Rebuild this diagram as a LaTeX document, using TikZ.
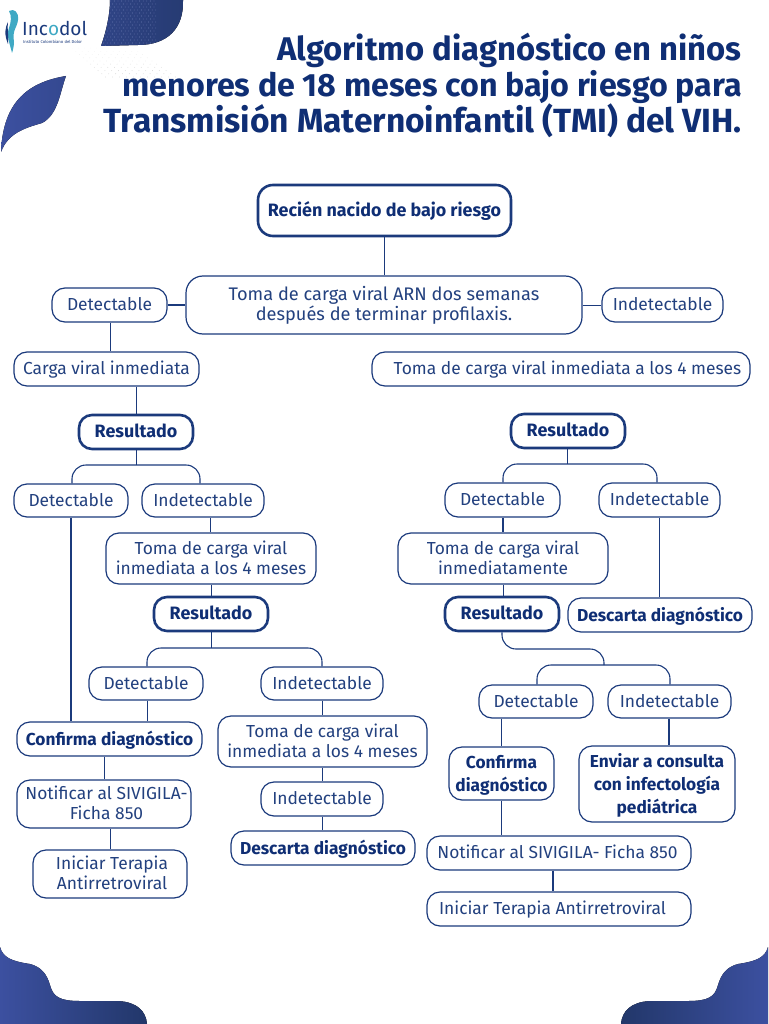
\documentclass[tikz,border=0pt]{standalone}
\usepackage{fontspec}
\setmainfont{Fira Sans}
\usetikzlibrary{calc}
\definecolor{ink}{HTML}{1B3A7C}
\definecolor{txt}{HTML}{23417F}
\definecolor{deep}{HTML}{0F2E74}
\definecolor{bandA}{HTML}{3C50A0}
\definecolor{bandB}{HTML}{22376A}
\definecolor{teal}{HTML}{3FA9C4}
\newcommand{\bx}[7][]{\node[box,#1,minimum width={(#4-#3)*1pt},minimum height={(#6-#5)*1pt}] (#2) at ({(#3+#4)/2},{(#5+#6)/2}) {\raisebox{0pt}[\dimexpr\height+3pt\relax][\depth]{\begin{tabular}{@{}c@{}}#7\end{tabular}}};}
\newcommand{\cn}[4][]{\draw[link,#1] (#2.south -| #4,0) -- (#3.north -| #4,0);}
\tikzset{
  x=1pt,y=-1pt,
  box/.style={draw=ink,line width=1.2pt,rounded corners=13pt,fill=white,text=txt,inner sep=0pt,align=center,font=\fontsize{17.4}{20}\selectfont},
  keybox/.style={line width=2.6pt,text=deep,font=\fontsize{17.9}{20}\selectfont\bfseries},
  boldbox/.style={text=deep,font=\fontsize{17.3}{23}\selectfont\bfseries},
  widebox/.style={font=\fontsize{18.2}{20}\selectfont},
  link/.style={draw=ink,line width=1pt},
  heavy/.style={line width=2.2pt},
  arc/.style={draw=ink,line width=1.1pt,rounded corners=14pt},
}
\begin{document}
\begin{tikzpicture}
\useasboundingbox (0,0) rectangle (768,1024);
% decoration
\fill[left color=bandA,right color=bandB] (0,947) .. controls (3,957) and (10,961) .. (30,964) .. controls (42,967) and (47,975) .. (50,985) .. controls (53,997) and (60,1001) .. (80,1001) -- (118,1001) .. controls (137,1002) and (146,1011) .. (147,1024) -- (0,1024) -- cycle;
\fill[right color=bandA,left color=bandB] (768,947) .. controls (765,957) and (758,961) .. (738,964) .. controls (726,967) and (721,975) .. (718,985) .. controls (715,997) and (708,1001) .. (688,1001) -- (650,1001) .. controls (631,1002) and (622,1011) .. (621,1024) -- (768,1024) -- cycle;
\begin{scope}
\clip (110,0) -- (183,0) .. controls (184,28) and (168,45) .. (138,45) -- (101,46) .. controls (106,32) and (110,15) .. (110,0) -- cycle;
\fill[left color=bandA!55!bandB,right color=bandB!85!bandA] (95,-1) rectangle (185,47);
\foreach \r in {0,...,15}{\foreach \c in {0,...,15}{
  \fill[white!30!bandA] ({100+\c*3.6+mod(\r,2)*1.8},{1+\r*3}) circle (0.42);
}}
\end{scope}
\fill[left color=bandA,right color=bandA!70!bandB] (66,76) .. controls (30,82) and (3,100) .. (1,152) .. controls (8,133) and (25,128) .. (42,123) .. controls (58,115) and (60,92) .. (66,76) -- cycle;
\foreach \r in {0,...,9}{\foreach \c in {0,...,10}{
  \fill[black!\fpeval{20-2*\r}] ({74+\r*(-0.2)+\c*(7-\r*0.1)+(9-\r)*3.5},{77-\r*3.2}) circle (0.45);
}}
% logo
\fill[teal] (9,11) .. controls (14,8) and (19,12) .. (18,20) .. controls (17,28) and (12,30) .. (14,42) .. controls (14,46) and (13,50) .. (12,53) .. controls (10,44) and (6,36) .. (9,28) .. controls (11,22) and (12,16) .. (9,11) -- cycle;
\fill[ink] (8,22) .. controls (5,28) and (4,34) .. (8,44) .. controls (9,38) and (7,30) .. (8,22) -- cycle;
\node[inner sep=0pt,anchor=base west,text=ink,font=\fontsize{19}{19}\selectfont] (logo) at (22,36) {Inc\textcolor{teal}{o}dol};
\node[inner sep=0pt,anchor=north west,text=ink,font=\fontsize{4.2}{5}\selectfont] (logosub) at (23,40) {Instituto Colombiano del Dolor};
% title
\node[inner sep=0pt,anchor=north east,align=right,text=deep,font=\fontsize{33}{36}\selectfont\bfseries] (title) at (742,33) {{\fontsize{32.8}{36}\selectfont Algoritmo diagnóstico en niños}\\{\fontsize{32.2}{36}\selectfont menores de 18 meses con bajo riesgo para}\\{\fontsize{33.5}{36}\selectfont Transmisión Maternoinfantil (TMI) del VIH.}};
% boxes
\bx[keybox,rounded corners=15pt]{top}{258}{511}{185}{236}{Recién nacido de bajo riesgo}
\bx[widebox,rounded corners=17pt]{tomaA}{186}{582}{276}{334}{Toma de carga viral ARN dos semanas\\después de terminar profilaxis.}
\bx{detA}{52}{167}{288}{322}{Detectable}
\bx{indA}{602}{723}{288}{322}{Indetectable}
\bx{cargaL}{14}{199}{352}{386}{Carga viral inmediata}
\bx{tomaR}{372}{750}{352}{386}{\hspace*{13pt}Toma de carga viral inmediata a los 4 meses}
\bx[keybox]{resL}{79}{193}{415}{449}{Resultado}
\bx[keybox]{resR}{511}{625}{414}{448}{Resultado}
\bx{detL}{14}{128}{484}{517}{Detectable}
\bx{indL}{142}{264}{484}{517}{Indetectable}
\bx{tomaLb}{106}{316}{533}{584}{Toma de carga viral\\inmediata a los 4 meses}
\bx[keybox]{resLb}{154}{268}{597}{631}{Resultado}
\bx{detLb}{89}{203}{667}{700}{Detectable}
\bx{indLb}{261}{383}{667}{700}{Indetectable}
\bx[boldbox]{confL}{17}{202}{722}{756}{Confirma diagnóstico}
\bx{tomaLc}{218}{427}{716}{767}{Toma de carga viral\\inmediata a los 4 meses}
\bx{notL}{17}{191}{780}{828}{\hspace*{5pt}Notificar al SIVIGILA-\\\hspace*{5pt}Ficha 850}
\bx{indLc}{261}{383}{782}{816}{Indetectable}
\bx{iniL}{33}{187}{850}{898}{\hspace*{4pt}Iniciar Terapia\\\hspace*{4pt}Antirretroviral}
\bx[boldbox]{desL}{231}{415}{831}{865}{Descarta diagnóstico}
\bx{detR}{445}{560}{483}{517}{Detectable}
\bx{indR}{599}{720}{483}{517}{Indetectable}
\bx{tomaRb}{398}{608}{533}{584}{Toma de carga viral\\inmediatamente}
\bx[keybox]{resRb}{445}{559}{597}{631}{Resultado}
\bx[boldbox]{desR}{568}{752}{598}{632}{Descarta diagnóstico}
\bx{detRb}{479}{593}{685}{718}{Detectable}
\bx{indRb}{608}{731}{685}{718}{Indetectable}
\bx[boldbox]{confR}{449}{554}{747}{800}{Confirma\\diagnóstico}
\bx[boldbox]{envR}{579}{735}{746}{822}{Enviar a consulta\\con infectología\\pediátrica}
\bx{notR}{427}{691}{836}{870}{\hspace*{-3pt}Notificar al SIVIGILA- Ficha 850}
\bx{iniR}{427}{691}{892}{926}{\hspace*{-13pt}Iniciar Terapia Antirretroviral}
% connectors
\cn{top}{tomaA}{384}
\draw[link,heavy] (detA.east) -- (tomaA.west |- detA.east);
\draw[link] (tomaA.east |- indA.west) -- (indA.west);
\cn{detA}{cargaL}{110}
\cn{cargaL}{resL}{136}
\coordinate (hubL) at (136,465);
\draw[link] (resL.south -| hubL) -- (hubL);
\draw[arc] (detL.north -| 72,0) |- (hubL) -| (indL.north -| 200,0);
\cn[heavy]{detL}{confL}{71}
\cn{indL}{tomaLb}{210}
\cn{tomaLb}{resLb}{211}
\coordinate (hubLb) at (211,648);
\draw[link] (resLb.south -| hubLb) -- (hubLb);
\draw[arc] (detLb.north -| 147,0) |- (hubLb) -| (indLb.north);
\cn{detLb}{confL}{147}
\cn{confL}{notL}{104}
\cn{notL}{iniL}{110}
\cn{indLb}{tomaLc}{322}
\cn{tomaLc}{indLc}{322}
\cn{indLc}{desL}{322}
\coordinate (hubR) at (567.5,464);
\draw[link] (resR.south -| hubR) -- (hubR);
\draw[arc] (detR.north -| 503,0) |- (hubR) -| (indR.north -| 657,0);
\cn[line width=1.6pt]{detR}{tomaRb}{503}
\cn{indR}{desR}{659}
\cn{tomaRb}{resRb}{503}
\coordinate (hubRb) at (604,665);
\draw[arc] (resRb.south -| 502,0) |- (604,649) -- (hubRb);
\draw[arc] (detRb.north -| 537,0) |- (hubRb) -| (indRb.north -| 670,0);
\cn{detRb}{confR}{501}
\cn[line width=1.8pt]{indRb}{envR}{669}
\cn{confR}{notR}{501}
\cn[heavy]{notR}{iniR}{553}
\end{tikzpicture}
\end{document}
